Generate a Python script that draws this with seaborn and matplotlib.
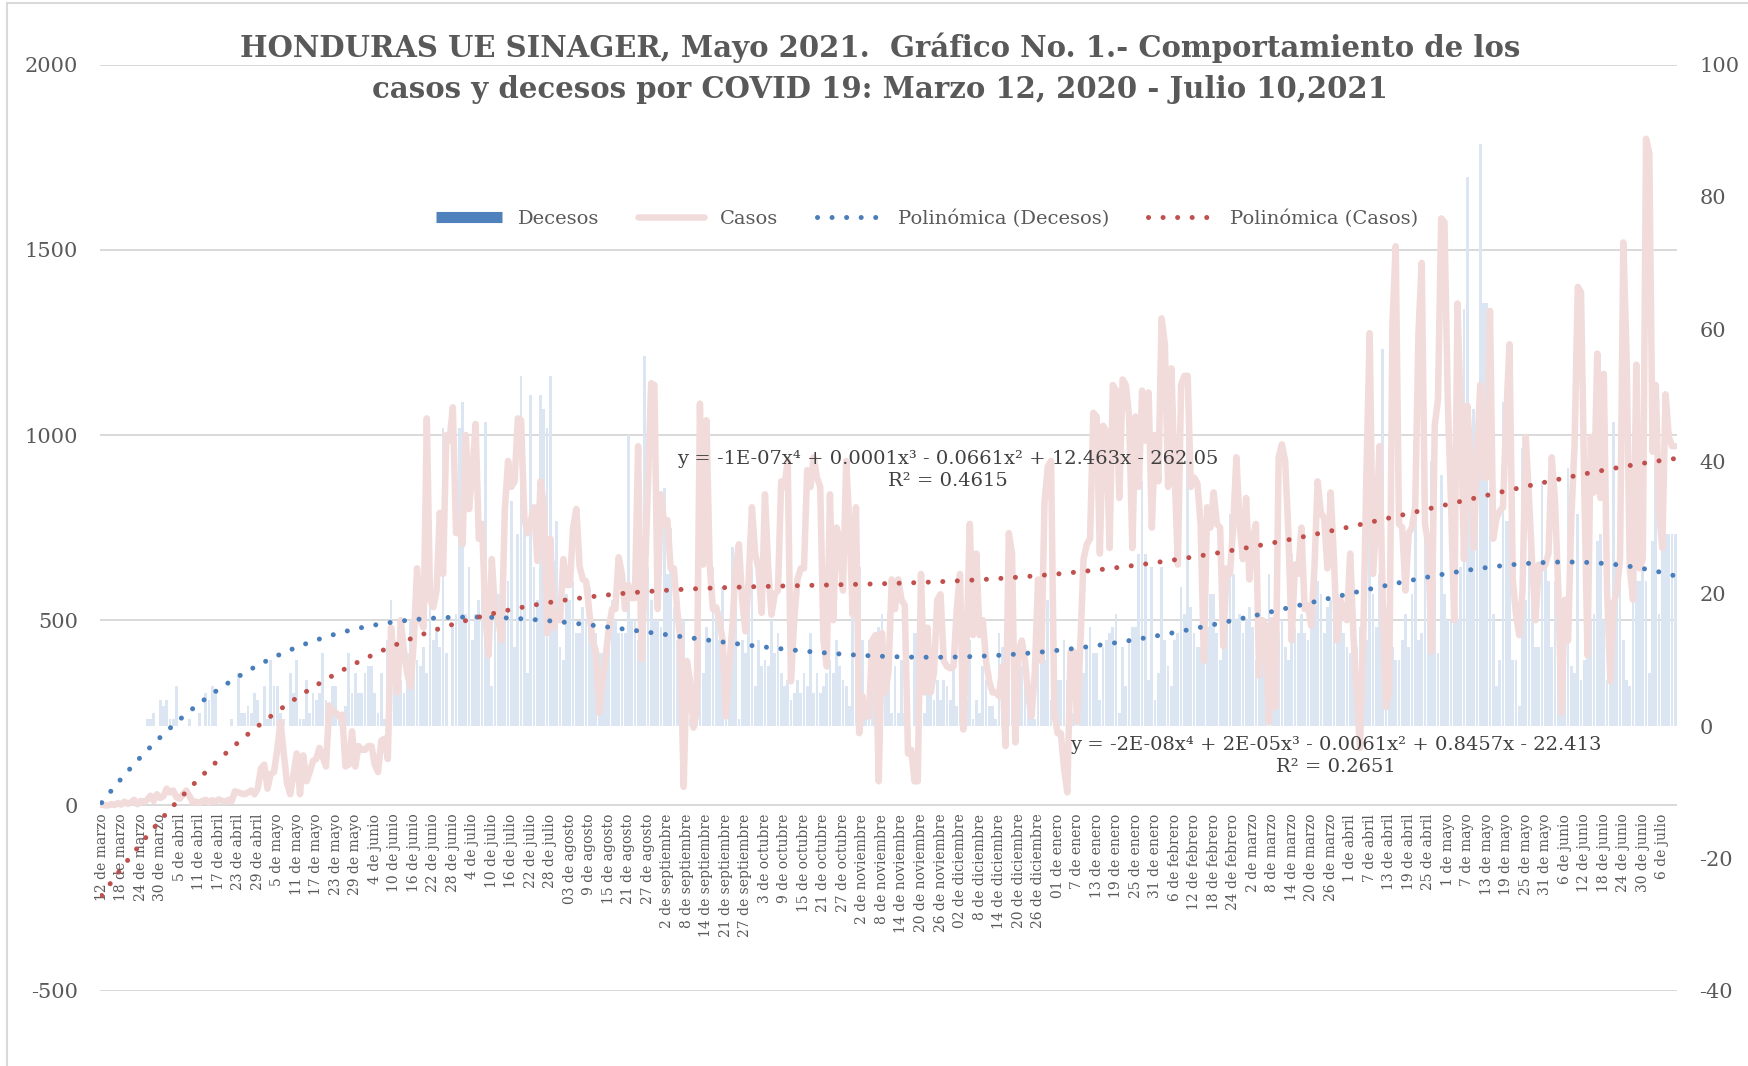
import numpy as np
import matplotlib
matplotlib.use("Agg")
import matplotlib.pyplot as plt
import seaborn as sns
from matplotlib.lines import Line2D

# casos diarios (eje izquierdo), 12 mar 2020 - 10 jul 2021 (sin 15 sep)
casos = [
    2, 0, 0, 3, 1, 6, 2, 10, 4, 8, 15, 3, 12, 9,
    15, 26, 12, 30, 20, 25, 45, 35, 40, 22, 18, 30, 40, 25, 8, 10, 6, 12, 15, 8, 14, 10, 16, 12, 10, 15,
    12, 38, 35, 32, 30, 35, 40, 30, 45, 100, 110, 45, 85, 90, 150, 225, 140, 60, 30, 85,
    140, 30, 135, 65, 90, 120, 125, 155, 130, 105, 270, 255, 250, 240, 245, 105, 110, 200, 105, 160,
    150, 150, 160, 160, 110, 90, 175, 180, 125, 480,
    380, 305, 500, 415, 355, 320, 445, 640, 500, 480,
    1045, 555, 535, 580, 790, 625, 1000, 985, 1075, 735,
    750, 705, 1000, 800, 900, 1030, 720, 760, 515, 405,
    665, 520, 500, 445, 800, 930, 860, 875, 1045, 1040,
    775, 735, 770, 805, 660, 875, 805, 465, 720, 480,
    515, 500, 665, 595, 595, 750, 800, 645, 610, 605,
    520, 445, 415, 250, 335, 400, 480, 530, 530, 670,
    625, 530, 595, 560, 560, 970, 395, 595, 860, 1140,
    1135, 530, 840, 760, 770, 640, 640, 530, 445, 50,
    390, 335, 210, 250, 1085, 650, 1040, 650, 530, 535,
    500, 445, 240, 375, 485, 640, 705, 555, 470, 610,
    805, 680, 640, 520, 840, 640, 515, 570, 580, 875,
    860, 930, 335, 500, 610, 640, 640, 905, 860, 940,
    885, 860, 445, 375, 840, 500, 750, 720, 580, 930,
    750, 515, 805, 195, 295, 240, 240, 445, 460, 65,
    465, 305, 360, 610, 530, 610, 555, 540, 140, 150,
    65, 65, 625, 305, 480, 305, 360, 555, 570, 390,
    375, 370, 375, 530, 625, 205, 430, 760, 460, 680,
    460, 500, 390, 335, 305, 305, 295, 375, 160, 735,
    680, 170, 415, 445, 390, 295, 240, 360, 610, 390,
    820, 915, 930, 250, 195, 195, 100, 35, 415, 415,
    225, 430, 665, 705, 720, 1060, 1050, 680, 1025, 1010,
    695, 1135, 1120, 830, 1150, 1135, 1050, 695, 1050, 860,
    1120, 985, 1115, 750, 1000, 875, 1315, 1245, 860, 1180,
    900, 650, 1135, 1160, 1160, 860, 885, 870, 760, 390,
    805, 750, 845, 760, 750, 430, 640, 625, 750, 940,
    760, 665, 830, 610, 720, 760, 350, 500, 485, 225,
    500, 265, 940, 975, 930, 735, 445, 650, 625, 750,
    530, 540, 485, 640, 875, 790, 775, 640, 845, 665,
    445, 555, 515, 500, 680, 460, 305, 155, 445, 900,
    1275, 625, 750, 970, 555, 265, 305, 1300, 1510, 760,
    750, 580, 735, 750, 805, 1275, 1465, 760, 705, 415,
    1025, 1095, 1585, 1575, 1100, 820, 500, 1355, 1050, 665,
    1080, 940, 695, 940, 1135, 885, 885, 1335, 720, 775,
    795, 805, 1050, 1245, 610, 515, 460, 580, 995, 830,
    650, 500, 650, 640, 650, 680, 940, 820, 580, 250,
    555, 445, 775, 970, 1400, 1385, 860, 405, 995, 845,
    1220, 830, 1165, 580, 335, 540, 580, 665, 1520, 1220,
    640, 555, 1190, 640, 665, 1800, 1760, 955, 1135, 790,
    695, 1110, 995, 970, 970,
]

# decesos diarios (eje derecho)
decesos = [
    0, 0, 0, 0, 0, 0, 0, 0, 0, 0, 0, 0, 0, 0,
    1, 1, 2, 0, 4, 3, 4, 1, 1, 6, 0, 0, 0, 1, 0, 0, 2, 0, 5, 4, 6, 5, 0, 0, 0, 0,
    1, 0, 8, 2, 2, 3, 2, 5, 4, 0, 6, 1, 10, 6, 6, 2, 1, 0, 8, 5,
    10, 1, 1, 7, 2, 5, 4, 5, 11, 4, 2, 6, 6, 2, 1, 3, 11, 5, 8, 5,
    5, 8, 9, 9, 5, 2, 8, 1, 13, 19,
    7, 9, 7, 5, 11, 16, 9, 10, 9, 12,
    8, 32, 13, 15, 12, 45, 11, 0, 15, 17,
    45, 49, 17, 24, 13, 17, 19, 21, 46, 15,
    6, 19, 20, 18, 21, 22, 34, 12, 29, 53,
    30, 8, 50, 24, 19, 50, 48, 45, 53, 25,
    31, 12, 10, 20, 19, 22, 14, 14, 18, 16,
    21, 16, 14, 11, 11, 13, 14, 19, 16, 14,
    14, 14, 44, 16, 16, 13, 13, 56, 24, 19,
    16, 16, 15, 36, 23, 30, 18, 13, 1, 16,
    5, 1, 5, 5, 14, 8, 15, 13, 24, 18,
    13, 21, 9, 10, 27, 18, 1, 13, 11, 17,
    24, 6, 13, 9, 10, 9, 16, 11, 14, 8,
    6, 7, 4, 5, 7, 5, 8, 6, 14, 5,
    8, 5, 6, 8, 10, 8, 13, 9, 7, 6,
    3, 18, 18, 24, 13, 4, 13, 5, 14, 15,
    17, 7, 17, 2, 9, 2, 10, 2, 2, 0,
    14, 14, 2, 2, 5, 9, 4, 7, 4, 7,
    6, 4, 11, 3, 10, 6, 4, 13, 1, 4,
    2, 9, 7, 3, 3, 1, 14, 12, 11, 10,
    10, 5, 4, 9, 7, 3, 2, 1, 10, 13,
    10, 19, 4, 2, 7, 7, 13, 7, 1, 2,
    8, 10, 8, 12, 15, 11, 11, 4, 12, 13,
    14, 15, 17, 2, 12, 6, 13, 15, 15, 26,
    37, 26, 7, 24, 4, 8, 24, 13, 9, 6,
    13, 14, 21, 17, 47, 18, 14, 12, 12, 17,
    15, 20, 20, 14, 10, 16, 16, 32, 23, 16,
    17, 14, 16, 18, 15, 10, 12, 15, 13, 23,
    12, 15, 14, 16, 12, 10, 26, 15, 14, 17,
    14, 13, 16, 18, 22, 20, 14, 18, 19, 27,
    20, 16, 14, 12, 11, 17, 12, 15, 11, 13,
    51, 20, 15, 23, 57, 18, 17, 12, 10, 10,
    13, 17, 12, 20, 41, 13, 14, 51, 24, 40,
    22, 11, 38, 20, 16, 16, 22, 16, 24, 63,
    83, 42, 48, 42, 88, 64, 64, 36, 17, 6,
    10, 49, 31, 31, 10, 10, 3, 42, 19, 31,
    19, 12, 12, 37, 25, 22, 12, 22, 19, 7,
    11, 39, 9, 8, 32, 7, 10, 17, 16, 17,
    28, 29, 16, 7, 19, 46, 25, 23, 13, 7,
    6, 23, 22, 22, 24, 22, 8, 28, 40, 17,
    29, 29, 29, 29, 29,
]

# una etiqueta cada 6 dias
etiquetas = [
    "12 de marzo", "18 de marzo", "24 de marzo", "30 de marzo", "5 de abril", "11 de abril",
    "17 de abril", "23 de abril", "29 de abril", "5 de mayo", "11 de mayo", "17 de mayo",
    "23 de mayo", "29 de mayo", "4 de junio", "10 de junio", "16 de junio", "22 de junio",
    "28 de junio", "4 de julio", "10 de julio", "16 de julio", "22 de julio", "28 de julio",
    "03 de agosto", "9 de agosto", "15 de agosto", "21 de agosto", "27 de agosto",
    "2 de septiembre", "8 de septiembre", "14 de septiembre", "21 de septiembre",
    "27 de septiembre", "3 de octubre", "9 de octubre", "15 de octubre", "21 de octubre",
    "27 de octubre", "2 de noviembre", "8 de noviembre", "14 de noviembre", "20 de noviembre",
    "26 de noviembre", "02 de diciembre", "8 de diciembre", "14 de diciembre",
    "20 de diciembre", "26 de diciembre", "01 de enero", "7 de enero", "13 de enero",
    "19 de enero", "25 de enero", "31 de enero", "6 de febrero", "12 de febrero",
    "18 de febrero", "24 de febrero", "2 de marzo", "8 de marzo", "14 de marzo",
    "20 de marzo", "26 de marzo", "1 de abril", "7 de abril", "13 de abril", "19 de abril",
    "25 de abril", "1 de mayo", "7 de mayo", "13 de mayo", "19 de mayo", "25 de mayo",
    "31 de mayo", "6 de junio", "12 de junio", "18 de junio", "24 de junio", "30 de junio",
    "6 de julio",
]

titulo1 = "HONDURAS UE SINAGER, Mayo 2021.  Gráfico No. 1.- Comportamiento de los"
titulo2 = "casos y decesos por COVID 19: Marzo 12, 2020 - Julio 10,2021"
eq_casos = "y = -1E-07x⁴ + 0.0001x³ - 0.0661x² + 12.463x - 262.05\nR² = 0.4615"
eq_decesos = "y = -2E-08x⁴ + 2E-05x³ - 0.0061x² + 0.8457x - 22.413\nR² = 0.2651"

ticks_izq = [-500, 0, 500, 1000, 1500, 2000]
ticks_der = [-40, -20, 0, 20, 40, 60, 80, 100]

c_barra = "#dce6f2"
c_linea = "#f2dcdb"
c_azul = "#4a7ebb"
c_rojo = "#c0504d"
gris = "#595959"

sns.set_theme(style="white")
plt.rcParams['font.family'] = ['DejaVu Serif']

dias = np.arange(len(casos))
x1 = dias + 1
tend_casos = np.polyval(np.polyfit(x1, casos, 4), x1)
tend_decesos = np.polyval(np.polyfit(x1, decesos, 4), x1)

fig = plt.figure(figsize=(17.49, 10.66), dpi=100)
ax = fig.add_axes([0.0572, 0.0708, 0.9016, 0.8685])
ax2 = ax.twinx()

# barras de decesos (eje derecho)
sns.barplot(x=dias, y=decesos, ax=ax, color=c_barra, saturation=1, width=0.85,
            errorbar=None, linewidth=0, zorder=1)

# casos (eje izquierdo)
sns.lineplot(x=dias, y=casos, ax=ax2, color=c_linea, linewidth=4.7, zorder=2)
punteado = dict(linewidth=3.6, linestyle=(0, (0.01, 2.9)), dash_capstyle='round')
ax2.plot(dias, tend_decesos, color=c_azul, transform=ax.transData, zorder=3, **punteado)
ax2.plot(dias, tend_casos, color=c_rojo, zorder=4, **punteado)

ax.set_xlim(-0.5, len(casos) - 0.5)
ax.set_ylim(-40, 100)
ax2.set_ylim(-500, 2000)

# lineas de cuadricula del eje izquierdo, detras de las barras
ax.hlines(ticks_izq, -0.5, len(casos) - 0.5, transform=ax2.transData,
          color="#d9d9d9", linewidth=1.4, zorder=0.5)

# el eje de categorias cruza en 0 del eje izquierdo
y0 = ax.transData.inverted().transform(ax2.transData.transform((0, 0)))[1]
ax.spines['bottom'].set_position(('data', y0))

ax.yaxis.tick_right()
ax.set_yticks(ticks_der)
ax.set_yticklabels([str(v) for v in ticks_der], fontsize=15, color=gris)
ax2.yaxis.tick_left()
ax2.set_yticks(ticks_izq)
ax2.set_yticklabels([str(v) for v in ticks_izq], fontsize=15, color=gris)
ax.tick_params(axis='y', length=0, pad=16)
ax2.tick_params(axis='y', length=0, pad=16)

ax.set_xticks(np.arange(0, len(casos), 6))
ax.set_xticklabels(etiquetas, fontsize=10, color=gris)
ax.tick_params(axis='x', length=0, pad=6, labelrotation=90)
for a in (ax, ax2):
    for s in a.spines.values():
        s.set_visible(False)
    a.grid(False)
    a.set_xlabel("")
    a.set_ylabel("")

fig.text(0.503, 1 - 48 / 1066, titulo1, ha='center', va='center', fontsize=21,
         weight='bold', color=gris)
fig.text(0.503, 1 - 90 / 1066, titulo2, ha='center', va='center', fontsize=21,
         weight='bold', color=gris)

fig.text(0.542, 0.559, eq_casos, ha='center', va='center', fontsize=14,
         color="#404040", linespacing=1.3)
fig.text(0.764, 0.291, eq_decesos, ha='center', va='center', fontsize=14,
         color="#404040", linespacing=1.3)

handles = [
    Line2D([0], [0], color="#4f81bd", linewidth=8, solid_capstyle='butt'),
    Line2D([0], [0], color=c_linea, linewidth=4.7),
    Line2D([0], [0], color=c_azul, **punteado),
    Line2D([0], [0], color=c_rojo, **punteado),
]
etiq_leyenda = ["Decesos", "Casos", "Polinómica (Decesos)", "Polinómica (Casos)"]
leg = fig.legend(handles, etiq_leyenda, loc='center', bbox_to_anchor=(0.53, 1 - 219 / 1066),
                 ncol=4, frameon=False, fontsize=14, handlelength=3.4, columnspacing=2.0)
for t in leg.get_texts():
    t.set_color(gris)

# borde del area del grafico
borde = "#d9d9d9"
fig.add_artist(Line2D([7.5 / 1749, 7.5 / 1749], [0, 1 - 3 / 1066], transform=fig.transFigure,
                      color=borde, linewidth=1.5))
fig.add_artist(Line2D([7.5 / 1749, 1], [1 - 3 / 1066, 1 - 3 / 1066], transform=fig.transFigure,
                      color=borde, linewidth=1.5))

fig.savefig("out.png", dpi=100)
